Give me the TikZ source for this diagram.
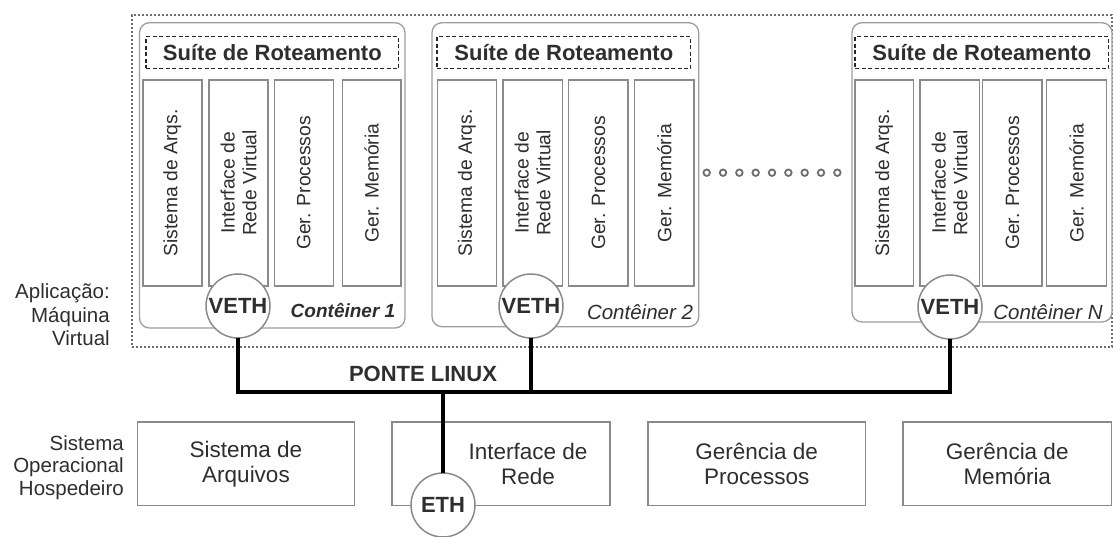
\documentclass[tikz,border=0pt]{standalone}
\usepackage{fontspec}
\setmainfont{Liberation Sans}
\definecolor{ink}{HTML}{2E2E2E}
\definecolor{frame}{HTML}{8A8A8A}
\definecolor{lightframe}{HTML}{9E9E9E}
\definecolor{dotgray}{HTML}{6E6E6E}
\tikzset{
  every node/.style={text=ink},
  vmarea/.style={rectangle, draw=dotgray, line width=2.2pt, dash pattern=on 2.2pt off 1.8pt, inner sep=0, outer sep=0},
  container/.style={rectangle, draw=lightframe, line width=1.3pt, fill=white, rounded corners=10pt, inner sep=0, outer sep=0},
  suite/.style={rectangle, draw=black!85, line width=1.4pt, dash pattern=on 4pt off 2.5pt, inner sep=0, outer sep=0, font=\fontsize{22}{26}\selectfont\bfseries},
  colbox/.style={rectangle, draw=frame, line width=1.5pt, inner sep=0, outer sep=0, minimum height=206},
  coltext/.style={rotate=90, align=center, inner sep=0, font=\fontsize{19.3}{21.7}\selectfont},
  iface/.style={circle, draw=frame, line width=1.5pt, fill=white, minimum size=64, inner sep=0, outer sep=0, font=\fontsize{22}{26}\selectfont\bfseries},
  ctlabel/.style={inner sep=0, font=\fontsize{20.5}{24}\selectfont\itshape},
  ctlabelbold/.style={inner sep=0, font=\fontsize{19}{24}\selectfont\bfseries\itshape},
  dotmark/.style={circle, draw=dotgray, line width=1.8pt, minimum size=6.5, inner sep=0},
  bridge/.style={draw=black, line width=3.2pt},
  osbox/.style={rectangle, draw=frame, line width=1.5pt, inner sep=0, outer sep=0, minimum height=83.5},
  ostext/.style={align=center, inner sep=0, font=\fontsize{22.5}{25}\selectfont},
  sidelabel/.style={align=right, inner sep=0, anchor=east},
}
% column box: name, left, right, label
\newcommand\colbox[4]{%
  \node[colbox, minimum width={#3-#2}] (#1) at ({(#2+#3)/2},183) {};
  \node[coltext] (#1-t) at (#1.center) {#4};
}
\begin{document}
\begin{tikzpicture}[x=1pt,y=-1pt]
\useasboundingbox (0,0) rectangle (1113,536);

% virtual machine area
\node[vmarea, minimum width=980, minimum height=332] (vm) at (622,181) {};

% container 1
\node[container, minimum width=265.5, minimum height=305.3] (k1) at (272.25,175.35) {};
\node[suite, minimum width=252.7, minimum height=31.6] (s1) at (272.35,52.5) {Suíte de Roteamento};
\colbox{k1a}{143}{202}{Sistema de Arqs.}
\colbox{k1b}{209}{268}{Interface de\\Rede Virtual}
\colbox{k1c}{274.3}{333.3}{Ger. Processos}
\colbox{k1d}{342.3}{401}{Ger. Memória}
\node[iface] (v1) at (238,306) {VETH};
\node[ctlabelbold] (l1) at (343,310) {Contêiner 1};

% container 2
\node[container, minimum width=266.7, minimum height=304] (k2) at (565.35,174.7) {};
\node[suite, minimum width=253.7, minimum height=31.6] (s2) at (563.85,52.5) {Suíte de Roteamento};
\colbox{k2a}{437.3}{496.7}{Sistema de Arqs.}
\colbox{k2b}{503}{562.3}{Interface de\\Rede Virtual}
\colbox{k2c}{568.7}{628}{Ger. Processos}
\colbox{k2d}{634.7}{694}{Ger. Memória}
\node[iface] (v2) at (531,306) {VETH};
\node[ctlabel] (l2) at (640,311.7) {Contêiner 2};

% ellipsis between containers
\foreach \i in {0,...,8}
  \node[dotmark] (dot\i) at ({706.7+\i*16.33},172.7) {};

% container N
\node[container, minimum width=260, minimum height=299.3] (kn) at (982,172.35) {};
\node[suite, minimum width=253.7, minimum height=31.6] (sn) at (981.85,52.5) {Suíte de Roteamento};
\colbox{kna}{855}{913.3}{Sistema de Arqs.}
\colbox{knb}{920}{979.3}{Interface de\\Rede Virtual}
\colbox{knc}{982.7}{1042}{Ger. Processos}
\colbox{knd}{1046.7}{1106.7}{Ger. Memória}
\node[iface] (vn) at (950,307) {VETH};
\node[ctlabel] (ln) at (1048,312) {Contêiner N};

% side labels
\node[sidelabel, font=\fontsize{20.5}{23.3}\selectfont] (app) at (110,314.7) {Aplicação:\\Máquina\\Virtual};
\node[sidelabel, font=\fontsize{20.5}{22.5}\selectfont] (host) at (124,467.3) {Sistema\\Operacional\\Hospedeiro};

% host operating system
\node[osbox, minimum width=216.6] (fs) at (246,463.8) {};
\node[ostext] (fs-t) at (fs.center) {Sistema de\\Arquivos};
\node[osbox, minimum width=218] (net) at (501,463.8) {};
\node[ostext] (net-t) at (528,463.8) {Interface de\\Rede};
\node[osbox, minimum width=217.5] (proc) at (756.75,463.8) {};
\node[ostext] (proc-t) at (proc.center) {Gerência de\\Processos};
\node[osbox, minimum width=208.5] (mem) at (1007.25,463.8) {};
\node[ostext] (mem-t) at (mem.center) {Gerência de\\Memória};
\node[iface] (eth) at (443,505) {ETH};

% linux bridge
\coordinate (bus) at (0,392);
\draw[bridge] (v1.south) |- (vn.south |- bus) -- (vn.south);
\draw[bridge] (v2.south) -- (v2.south |- bus);
\draw[bridge] (eth.north) -- (eth.north |- bus);
\node[inner sep=0, font=\fontsize{22}{26}\selectfont\bfseries] (br) at (423,374) {PONTE LINUX};
\end{tikzpicture}
\end{document}
